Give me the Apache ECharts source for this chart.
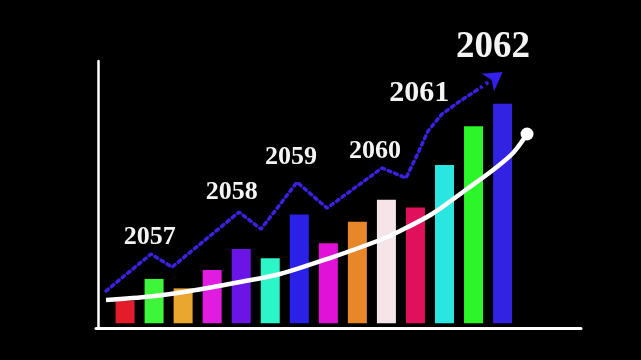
<!DOCTYPE html>
<html>
<head>
<meta charset="utf-8">
<script src="https://cdn.jsdelivr.net/npm/echarts@6/dist/echarts.min.js"></script>
<style>
html,body{margin:0;padding:0;background:#000;}
#chart{width:641px;height:360px;}
</style>
</head>
<body>
<div id="chart"></div>
<script>
// ---- data ----
const barPositions = [1,2,3,4,5,6,7,8,9,10,11,12,13,14];
const barValues = [8.6,16.9,13.3,20.3,28.3,24.8,41.5,30.5,38.7,47.1,44.1,60.3,75.1,83.7];
const barColors = ['#e31b2b','#3ef53a','#e9a72f','#e01ce0','#6a14e6','#2cf5c8','#2a20e8','#e012d8','#e8872a','#f5e4e8','#e0105a','#2ae6e0','#2cf52a','#3222e2'];

const trendX = [0.344,1.894,2.617,4.924,5.682,6.921,7.955,9.848,10.675,11.088,11.433,11.915,12.534,13.223];
const trendY = [12.3,26.4,21.4,42.4,35.9,53.8,43.9,59.2,55.4,64.9,73.3,79.8,84.7,89.7];
const arrowTip = [14.0, 95.8];

const curveX = [0.344,1.860,3.237,4.959,6.336,8.058,9.780,10.468,11.570,12.775,13.671,14.360,14.842];
const curveY = [8.87,10.20,12.30,15.73,18.78,24.88,31.75,35.18,41.66,51.19,58.43,64.92,72.16];

const years = ['2057','2058','2059','2060','2061','2062'];
const yearX = [1.849,4.673,6.715,9.607,11.133,13.671];
const yearY = [32.9,49.9,63.2,65.7,87.7,105.3];
const yearSize = [26,26,26,26,30,37];

// ---- chart ----
const chart = echarts.init(document.getElementById('chart'));
const zip = (a,b) => a.map((v,i)=>[v,b[i]]);
const trendData = zip(trendX, trendY);
const lastTrend = trendData[trendData.length-1];

chart.setOption({
  backgroundColor:'#000',
  animation:false,
  grid:{left:96,right:60,top:61,bottom:31.5},
  xAxis:{type:'value',min:0,max:16.7,
    axisLine:{show:true,onZero:false,lineStyle:{color:'#ffffff',width:3}},
    axisTick:{show:false},axisLabel:{show:false},splitLine:{show:false}},
  yAxis:{type:'value',min:-2,max:100,offset:-2,
    axisLine:{show:true,onZero:false,lineStyle:{color:'#ffffff',width:2.5}},
    axisTick:{show:false},axisLabel:{show:false},splitLine:{show:false}},
  series:[
    {type:'bar',barWidth:19,
     data:barPositions.map((p,i)=>({value:[p,barValues[i]],itemStyle:{color:barColors[i]}}))},
    {type:'line',data:trendData,symbol:'none',
     lineStyle:{color:'#3a22e0',width:3.5,type:[3,4],cap:'round'},
     markLine:{silent:true,symbol:['none','arrow'],symbolSize:[16,18],
       label:{show:false},
       lineStyle:{color:'#3320ee',width:3.5,type:[3,4]},
       data:[[{coord:lastTrend},{coord:arrowTip}]]}},
    {type:'line',data:zip(curveX,curveY),smooth:0.3,
     symbol:'circle',showSymbol:true,
     symbolSize:(v,p)=>p.dataIndex===curveX.length-1?13:0,
     itemStyle:{color:'#ffffff'},
     lineStyle:{color:'#ffffff',width:4.5}},
    {type:'scatter',clip:false,symbol:'circle',symbolSize:1,
     itemStyle:{color:'rgba(0,0,0,0)',opacity:1},
     data:years.map((t,i)=>({value:[yearX[i],yearY[i]],name:t,
       label:{show:true,position:'inside',formatter:t,fontSize:yearSize[i],
         fontFamily:'Liberation Serif',fontWeight:'bold',
         color:'#f4f4f4'}}))}
  ]
});
</script>
</body>
</html>
